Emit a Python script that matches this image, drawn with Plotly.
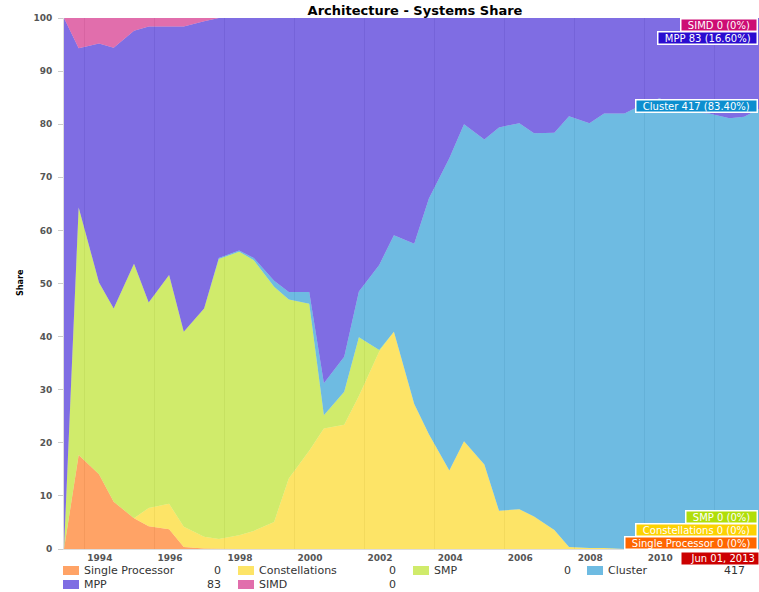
import plotly.graph_objects as go

# semiannual TOP500 lists (June / November)
dates = [
    "1993-06-01", "1993-11-01", "1994-06-01", "1994-11-01", "1995-06-01", "1995-11-01",
    "1996-06-01", "1996-11-01", "1997-06-01", "1997-11-01", "1998-06-01", "1998-11-01",
    "1999-06-01", "1999-11-01", "2000-06-01", "2000-11-01", "2001-06-01", "2001-11-01",
    "2002-06-01", "2002-11-01", "2003-06-01", "2003-11-01", "2004-06-01", "2004-11-01",
    "2005-06-01", "2005-11-01", "2006-06-01", "2006-11-01", "2007-06-01", "2007-11-01",
    "2008-06-01", "2008-11-01", "2009-06-01", "2009-11-01", "2010-06-01", "2010-11-01",
    "2011-06-01", "2011-11-01", "2012-06-01", "2012-11-01", "2013-06-01",
]

# share of systems (%) per architecture, in stacking order
single_processor = [
    0, 17.7, 14.1, 8.9, 5.8, 4.3, 3.7, 0.4, 0.1, 0, 0, 0, 0, 0, 0, 0, 0, 0, 0, 0, 0,
    0, 0, 0, 0, 0, 0, 0, 0, 0, 0, 0, 0, 0, 0, 0, 0, 0, 0, 0, 0,
]
constellations = [
    0, 0, 0, 0, 0, 3.4, 4.8, 3.8, 2.2, 1.9, 2.6, 3.4, 5.1, 13.3, 18.5, 22.7, 23.4, 28.8,
    37.2, 40.9, 27.3, 21.6, 14.8, 20.3, 15.9, 7.2, 7.5, 6.1, 3.6, 0.4, 0.2, 0.2, 0, 0, 0,
    0, 0, 0, 0, 0, 0,
]
smp = [
    0, 46.6, 36.1, 36.4, 47.9, 38.7, 43.1, 36.7, 43.0, 52.7, 53.4, 51.0, 44.3, 33.7, 27.7,
    2.5, 6.2, 11.1, 0.3, 0, 0, 0, 0, 0, 0, 0, 0, 0, 0, 0, 0, 0, 0, 0, 0, 0, 0, 0, 0, 0, 0,
]
cluster = [
    0, 0, 0, 0, 0, 0, 0, 0, 0, 0.2, 0.2, 0.4, 1.1, 1.4, 2.2, 6.0, 6.6, 8.6, 16.0, 18.2,
    30.2, 44.4, 58.8, 59.7, 61.2, 72.2, 72.7, 72.2, 74.8, 81.1, 80.0, 81.8, 82.0, 83.4,
    84.9, 83.6, 82.2, 82.0, 81.1, 81.4, 83.4,
]
mpp = [
    100, 30.0, 45.0, 49.1, 43.9, 52.0, 46.8, 57.5, 54.1, 45.2, 43.8, 45.2, 49.5, 51.6,
    51.6, 68.8, 63.8, 51.5, 46.5, 40.9, 42.5, 34.0, 26.4, 20.0, 22.9, 20.6, 19.8, 21.7,
    21.6, 18.5, 19.8, 18.0, 18.0, 16.6, 15.1, 16.4, 17.8, 18.0, 18.9, 18.6, 16.6,
]
simd = [
    0, 5.7, 4.8, 5.6, 2.4, 1.6, 1.6, 1.6, 0.6, 0, 0, 0, 0, 0, 0, 0, 0, 0, 0, 0, 0, 0, 0,
    0, 0, 0, 0, 0, 0, 0, 0, 0, 0, 0, 0, 0, 0, 0, 0, 0, 0,
]

series_names = ["Single Processor", "Constellations", "SMP", "Cluster", "MPP", "SIMD"]
series_values = [single_processor, constellations, smp, cluster, mpp, simd]
latest_counts = [0, 0, 0, 417, 83, 0]  # Jun 2013 list
total_systems = 500
cursor_label = "Jun 01, 2013"

year_labels = [str(y) for y in range(1994, 2013, 2)]
year_label_pos = [f"{y}-06-10" for y in range(1994, 2013, 2)]

BASE_COLOURS = ["#FF6600", "#FCD202", "#B0DE09", "#0D8ECF", "#2A0CD0", "#CD0D74"]


def rgba(hex_colour, alpha=0.6):
    h = hex_colour.lstrip("#")
    r, g, b = int(h[0:2], 16), int(h[2:4], 16), int(h[4:6], 16)
    return f"rgba({r},{g},{b},{alpha})"


# plot area in pixels: x 64..759, y 18..549
PLOT_L, PLOT_R, PLOT_T, PLOT_B = 64, 759, 18, 549


def px_x(px):
    return (px - PLOT_L) / (PLOT_R - PLOT_L)


def px_y(py):
    return (PLOT_B - py) / (PLOT_B - PLOT_T)


fig = go.Figure()
for name, vals, col in zip(series_names, series_values, BASE_COLOURS):
    fig.add_trace(go.Scatter(
        x=dates, y=vals,
        mode="lines",
        name=name,
        stackgroup="one",
        line=dict(width=0, color=col),
        fillcolor=rgba(col),
        hovertemplate=f"<b>{name}</b><br>%{{x}}<br>%{{y:.1f}}%<extra></extra>",
    ))

annotations = []
shapes = []

# custom legend: 4 columns, 2 rows, value right-aligned in each column
col_x = [63, 238, 413, 587]
row_y = [570.5, 584.5]
for i, (name, col, cnt) in enumerate(zip(series_names, BASE_COLOURS, latest_counts)):
    r, c = divmod(i, 4)
    x0, yc = col_x[c], row_y[r]
    shapes.append(dict(
        type="rect", xref="paper", yref="paper",
        x0=px_x(x0), x1=px_x(x0 + 16), y0=px_y(yc - 4.5), y1=px_y(yc + 4.5),
        fillcolor=rgba(col), line=dict(width=0),
    ))
    annotations.append(dict(
        xref="paper", yref="paper", x=px_x(x0 + 19), y=px_y(yc),
        text=name, showarrow=False, xanchor="left", yanchor="middle",
        font=dict(size=11, color="#333"),
    ))
    annotations.append(dict(
        xref="paper", yref="paper", x=px_x(x0 + 160), y=px_y(yc),
        text=str(cnt), showarrow=False, xanchor="right", yanchor="middle",
        font=dict(size=11, color="#333"),
    ))

# cursor balloons at the right edge
balloon_y = {"SIMD": 25, "MPP": 38.5, "SMP": 516.5, "Constellations": 529.5,
             "Single Processor": 542.5}
for name, col, cnt in zip(series_names, BASE_COLOURS, latest_counts):
    pct = cnt / total_systems * 100
    pct_txt = "0%" if pct == 0 else f"{pct:.2f}%"
    ann = dict(
        text=f"&nbsp;&nbsp;{name} {cnt} ({pct_txt})&nbsp;&nbsp;", showarrow=False,
        xref="paper", x=px_x(758), xanchor="right", yanchor="middle",
        bgcolor=col, bordercolor="white", borderwidth=1.5, borderpad=0,
        font=dict(size=10, color="white"),
    )
    if name == "Cluster":
        ann.update(yref="y", y=sum(v[-1] for v in series_values[:4]))
    else:
        ann.update(yref="paper", y=px_y(balloon_y[name]))
    annotations.append(ann)

annotations.append(dict(
    text="&nbsp;&nbsp;&nbsp;" + cursor_label + "&nbsp;", showarrow=False,
    xref="paper", x=1.0, xanchor="right", yref="paper", y=px_y(558), yanchor="middle",
    bgcolor="#CC0000", borderpad=0, font=dict(size=10, color="white"),
))

# y axis title
annotations.append(dict(
    text="<b>Share</b>", showarrow=False, textangle=-90,
    xref="paper", x=px_x(20), yref="paper", y=px_y(283),
    xanchor="center", yanchor="middle",
    font=dict(family="Liberation Sans Narrow, DejaVu Sans Condensed, sans-serif",
              size=9, color="#000"),
))

fig.update_layout(
    width=759, height=592,
    margin=dict(l=PLOT_L, r=0, t=PLOT_T, b=592 - PLOT_B),
    paper_bgcolor="white", plot_bgcolor="white",
    showlegend=False,
    font=dict(family="DejaVu Sans", color="#333"),
    title=dict(
        text="<b>Architecture - Systems Share</b>",
        xref="paper", x=px_x(415), xanchor="center",
        yref="container", y=1 - 10 / 592, yanchor="middle",
        font=dict(size=13, color="#000"),
    ),
    xaxis=dict(
        type="date",
        range=["1993-06-01", "2013-04-04"],
        tickvals=year_label_pos, ticktext=year_labels,
        ticks="", showgrid=False, zeroline=False,
        minor=dict(tick0="1994-01-01", dtick="M24", showgrid=True,
                   gridcolor="rgba(0,0,0,0.1)", gridwidth=1),
        showline=True, linecolor="#ddd",
        tickfont=dict(size=9, color="#555", weight="bold"),
    ),
    yaxis=dict(
        range=[0, 100], dtick=10,
        ticks="outside", ticklen=5, tickcolor="#ccc",
        showgrid=False, zeroline=False,
        showline=True, linecolor="#ddd",
        ticklabelstandoff=4,
        tickfont=dict(size=9, color="#555", weight="bold"),
    ),
    annotations=annotations,
    shapes=shapes,
)

# drop the browser's default body margin so the figure sits at the page origin
fig.write_html(
    "out.html",
    config={"displayModeBar": False},
    post_script="document.body.style.margin='0px';",
)
